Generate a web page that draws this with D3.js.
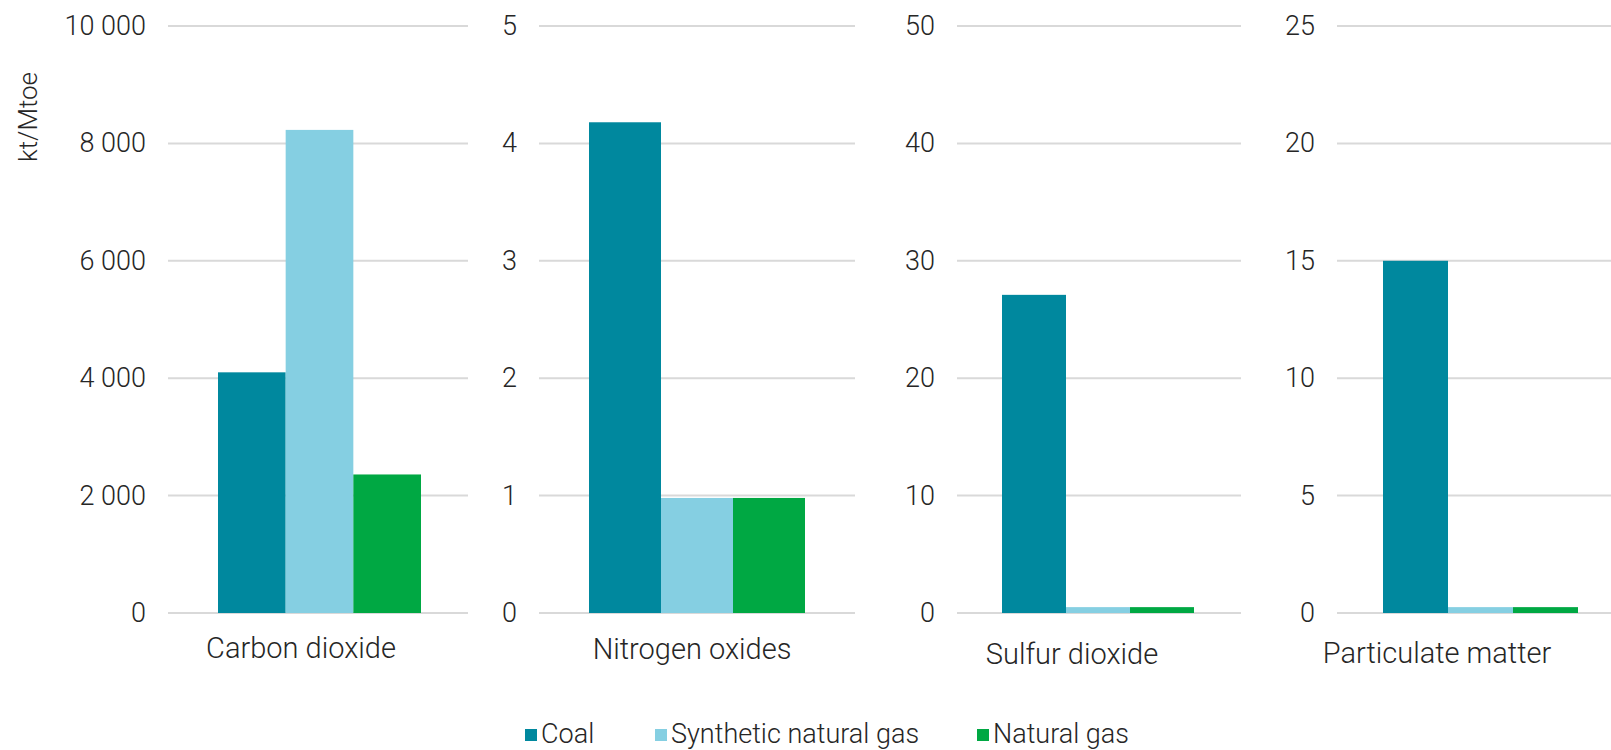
<!DOCTYPE html>
<html>
<head>
<meta charset="utf-8">
<script src="https://cdn.jsdelivr.net/npm/d3@7"></script>
<style>
  html, body { margin: 0; padding: 0; background: #fff; }
  svg { display: block; font-family: Roboto, "Noto Sans", sans-serif; font-weight: 300; }
</style>
</head>
<body>
<svg id="chart" width="1611" height="750"></svg>
<script>
// ---- data ----
const pollutants = ["Carbon dioxide", "Nitrogen oxides", "Sulfur dioxide", "Particulate matter"];
const series = ["Coal", "Synthetic natural gas", "Natural gas"];
const coal      = [4100, 4.18, 27.1, 15.0];
const synthetic = [8230, 0.98, 0.5, 0.25];
const natural   = [2360, 0.98, 0.5, 0.25];
const axisMax   = [10000, 5, 50, 25];
const tickStep  = [2000, 1, 10, 5];
const yTitle = "kt/Mtoe";

const colors = ["#00889E", "#85CFE2", "#00A843"];

// ---- layout (pixels) ----
const gridRanges = [[168, 468], [539, 855], [957, 1241], [1337, 1625]];
const barRanges  = [[218, 421], [589, 805], [1002, 1194], [1383, 1578]];
const labelX     = [301, 692, 1072, 1437];
const labelY     = [658, 659, 664, 663];
const yBottom = 613, yTop = 26;

const svg = d3.select("#chart");
const locale = d3.formatLocale({ decimal: ",", thousands: " ", grouping: [3], currency: ["", ""] });
const fmt = locale.format(",");
const valuesBySeries = [coal, synthetic, natural];

pollutants.forEach((p, i) => {
  const g = svg.append("g");
  const y = d3.scaleLinear().domain([0, axisMax[i]]).range([yBottom, yTop]);
  const ticks = d3.range(0, axisMax[i] + tickStep[i] / 2, tickStep[i]);
  const [gx0, gx1] = gridRanges[i];

  // gridlines
  g.append("g").selectAll("line").data(ticks).join("line")
    .attr("x1", gx0).attr("x2", gx1)
    .attr("y1", d => y(d)).attr("y2", d => y(d))
    .attr("stroke", "#D9D9D9").attr("stroke-width", 2);

  // tick labels
  g.append("g").selectAll("text").data(ticks).join("text")
    .attr("x", gx0 - 22).attr("y", d => y(d))
    .attr("text-anchor", "end").attr("dominant-baseline", "central")
    .attr("font-size", 27).attr("fill", "#262626")
    .text(d => fmt(d));

  // bars
  const x = d3.scaleBand().domain(series).range(barRanges[i]).padding(0);
  const rows = series.map((s, k) => ({ s, v: valuesBySeries[k][i], c: colors[k] }));
  g.append("g").selectAll("rect").data(rows).join("rect")
    .attr("x", d => x(d.s)).attr("width", x.bandwidth())
    .attr("y", d => y(d.v)).attr("height", d => y(0) - y(d.v))
    .attr("fill", d => d.c);

  // category label
  g.append("text")
    .attr("x", labelX[i]).attr("y", labelY[i])
    .attr("text-anchor", "middle")
    .attr("font-size", 29).attr("fill", "#262626")
    .text(p);
});

// y title
svg.append("text")
  .attr("transform", "translate(37,117) rotate(-90)")
  .attr("text-anchor", "middle")
  .attr("font-size", 26).attr("fill", "#262626")
  .text(yTitle);

// legend
const legendX = [525, 655, 977];
const lg = svg.append("g");
series.forEach((s, k) => {
  lg.append("rect").attr("x", legendX[k]).attr("y", 729).attr("width", 12).attr("height", 12).attr("fill", colors[k]);
  lg.append("text").attr("x", legendX[k] + 16).attr("y", 743)
    .attr("font-size", 27).attr("fill", "#262626").text(s);
});
</script>
</body>
</html>
